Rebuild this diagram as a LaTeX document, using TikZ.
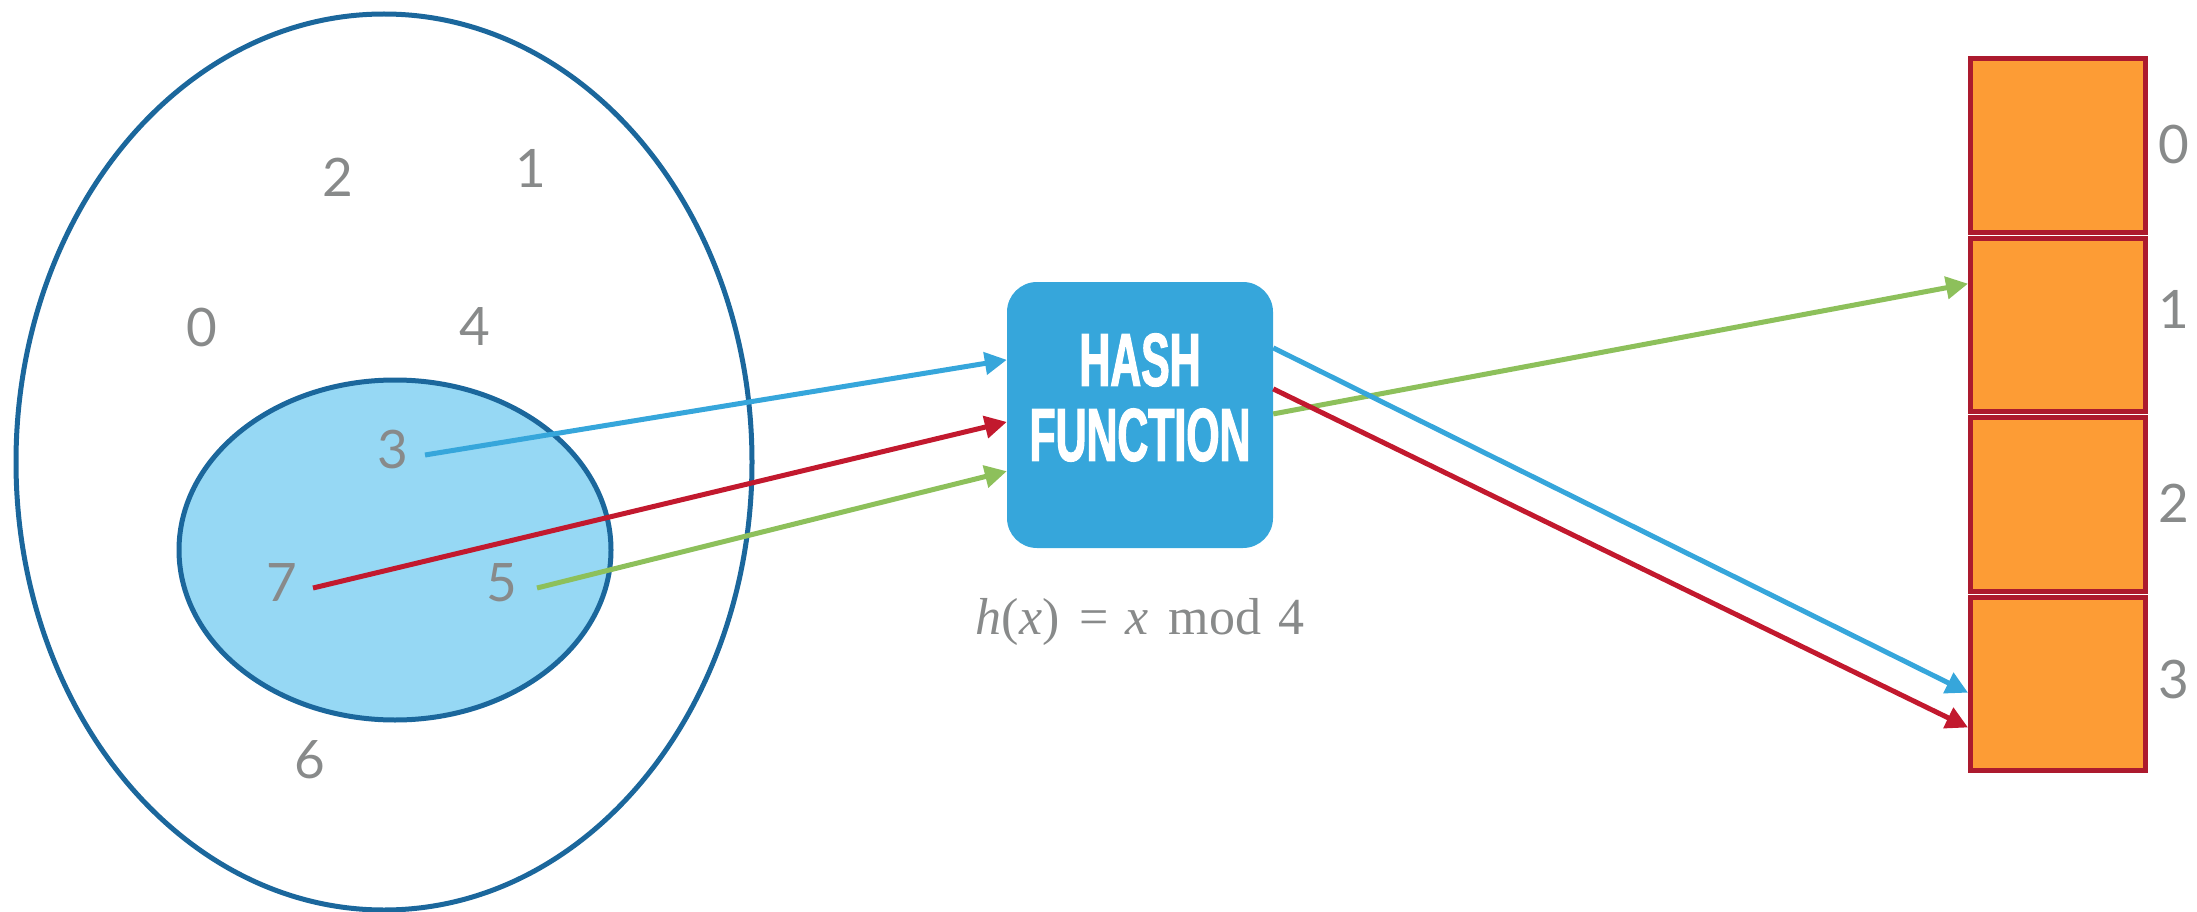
\documentclass[tikz,border=0pt]{standalone}
\usepackage{fontspec}
\usepackage{graphicx}
\usetikzlibrary{arrows.meta,calc,shapes.geometric}

\newfontfamily\digitfont{Lato}
\newfontfamily\hashfont[FakeStretch=0.57,FakeBold=1.5]{Liberation Sans Bold}
\newfontfamily\formfont{Liberation Serif}

\definecolor{setblue}{HTML}{1B679C}
\definecolor{setfill}{HTML}{96D8F4}
\definecolor{hashblue}{HTML}{36A6DB}
\definecolor{arrred}{HTML}{C2192E}
\definecolor{arrgreen}{HTML}{8DC05B}
\definecolor{labelgray}{HTML}{888A8A}
\definecolor{cellred}{HTML}{AC1A2E}
\definecolor{cellorange}{HTML}{FD9C35}

\tikzset{
  elem/.style={inner sep=0pt, text=labelgray,
    font=\digitfont\fontsize{53}{53}\selectfont},
  setline/.style={draw=setblue, line width=5pt},
  conn/.style={line width=5pt, -{Triangle[length=22pt,width=22pt]}},
  hashbox/.style={fill=hashblue, rounded corners=30pt,
    minimum width=266pt, minimum height=266pt, inner sep=0pt},
  hashtext/.style={text=white, align=center, inner sep=0pt,
    font=\hashfont\fontsize{75}{75}\selectfont},
  formula/.style={anchor=base, inner sep=0pt, text=labelgray,
    font=\formfont\fontsize{52}{52}\selectfont},
  cell/.style={draw=cellred, fill=cellorange, line width=5pt,
    minimum width=175pt, minimum height=173.5pt, inner sep=0pt},
}

\begin{document}
\begin{tikzpicture}[x=1pt, y=-1pt]
  \useasboundingbox (0,0) rectangle (2197,912);

  % universe of keys and the subset of stored keys
  \draw[setline] (384,462) ellipse [x radius=368, y radius=448];
  \draw[setline, fill=setfill] (395,550) ellipse [x radius=216, y radius=170];

  % keys
  \node[elem] (e0) at (202,327) {0};
  \node[elem] (e2) at (338,177) {2};
  \node[elem] (e1) at (531,168) {1};
  \node[elem] (e4) at (475,327) {4};
  \node[elem] (e3) at (393,450) {3};
  \node[elem] (e7) at (282,583) {7};
  \node[elem] (e5) at (502,583) {5};
  \node[elem] (e6) at (310,760) {6};

  % hash function
  \node[hashbox] (hash) at (1140,415) {};
  \node[hashtext] (hashlbl) at (1140,397.5) {HASH\\FUNCTION};
  \node[formula] (form) at (1140,634)
    {\textit{h}(\textit{x})\hspace{20pt}=\hspace{17pt}\textit{x}\hspace{20pt}mod\hspace{17pt}4};

  % table slots
  \node[cell] (c0) at (2058,145.25) {};
  \node[cell] (c1) at (2058,324.75) {};
  \node[cell] (c2) at (2058,504.25) {};
  \node[cell] (c3) at (2058,683.75) {};

  \node[elem] (i0) at (2174,145) {0};
  \node[elem] (i1) at (2174,309) {1};
  \node[elem] (i2) at (2174,503) {2};
  \node[elem] (i3) at (2174,680) {3};

  % keys into the hash function
  \draw[conn, hashblue] ([xshift=32pt,yshift=-5pt]e3.center)
    -- ($(hash.north west)!0.293!(hash.south west)$);
  \draw[conn, arrred] ([xshift=31pt,yshift=-5pt]e7.center)
    -- ($(hash.north west)!0.526!(hash.south west)$);
  \draw[conn, arrgreen] ([xshift=35pt,yshift=-5pt]e5.center)
    -- ($(hash.north west)!0.711!(hash.south west)$);

  % hash values into the slots
  \draw[conn, arrgreen] ($(hash.north east)!0.496!(hash.south east)$)
    -- ($(c1.north west)!0.27!(c1.south west)$);
  \draw[conn, hashblue] ($(hash.north east)!0.248!(hash.south east)$)
    -- ($(c3.north west)!0.55!(c3.south west)$);
  \draw[conn, arrred] ($(hash.north east)!0.402!(hash.south east)$)
    -- ($(c3.north west)!0.745!(c3.south west)$);
\end{tikzpicture}
\end{document}
